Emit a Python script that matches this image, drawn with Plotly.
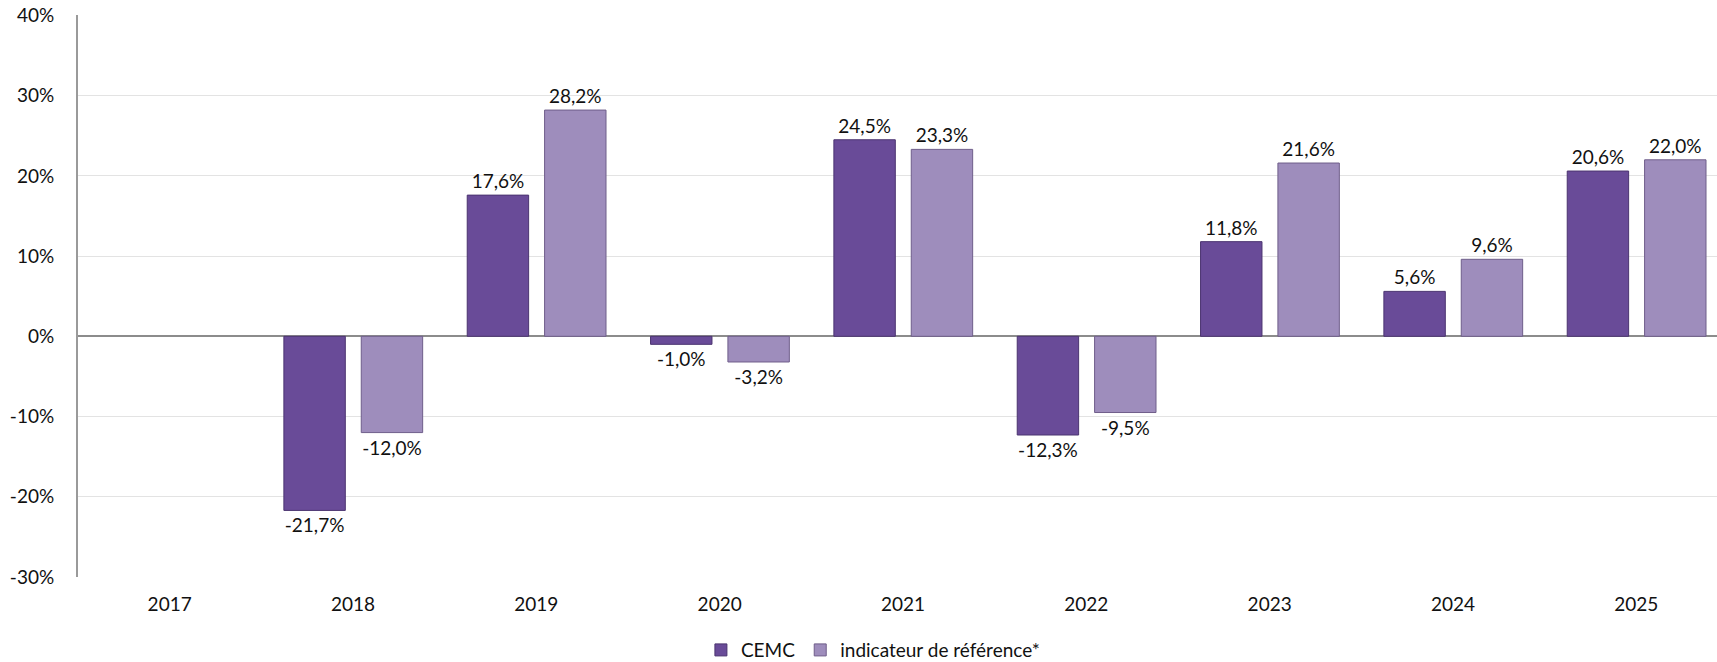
import plotly.graph_objects as go

# data
years = ['2017', '2018', '2019', '2020', '2021', '2022', '2023', '2024', '2025']
cemc = [None, -21.7, 17.6, -1.0, 24.5, -12.3, 11.8, 5.6, 20.6]
reference = [None, -12.0, 28.2, -3.2, 23.3, -9.5, 21.6, 9.6, 22.0]
y_ticks = [-30, -20, -10, 0, 10, 20, 30, 40]


def fr_pct(v):
    # french style: comma as decimal separator
    return '' if v is None else f"{v:.1f}%".replace('.', ',')


font_family = "Lato, 'Open Sans', sans-serif"

fig = go.Figure()
fig.add_trace(go.Bar(
    x=years, y=cemc, name='CEMC',
    text=[fr_pct(v) for v in cemc], textposition='outside',
    width=0.335, offset=-0.377,
    marker=dict(color='#694b98', line=dict(color='#4b3470', width=1)),
    textfont=dict(size=19, color='#111111', family=font_family),
    cliponaxis=False,
))
fig.add_trace(go.Bar(
    x=years, y=reference, name='indicateur de référence*',
    text=[fr_pct(v) for v in reference], textposition='outside',
    width=0.335, offset=0.045,
    marker=dict(color='#9e8dbc', line=dict(color='#6f5e8a', width=1)),
    textfont=dict(size=19, color='#111111', family=font_family),
    cliponaxis=False,
))

fig.update_layout(
    width=1717, height=662,
    margin=dict(l=78, r=0, t=15, b=85, autoexpand=False),
    plot_bgcolor='white', paper_bgcolor='white',
    font=dict(family=font_family, size=19, color='#111111'),
    barmode='group',
    legend=dict(orientation='h', x=0.485, xanchor='center', y=-0.13, yanchor='middle',
                font=dict(size=19), itemwidth=30),
)
fig.update_xaxes(
    type='category', range=[-0.5, 8.44],
    showgrid=False, showline=False, ticks='',
    ticklabelstandoff=14,
)
fig.update_yaxes(
    range=[-30, 40.05], tickvals=y_ticks, ticktext=[f"{v}%" for v in y_ticks],
    showgrid=True, gridcolor='#e3e3e3', gridwidth=1,
    zeroline=True, zerolinecolor='#8c8c8c', zerolinewidth=1.5,
    showline=True, linecolor='#9a9a9a', linewidth=2, mirror=False,
    ticks='', ticklabelstandoff=18, ticklabeloverflow='allow',
)

# drop the default 8px page margin so the figure fills the window
fig.write_html("out.html", config={'displayModeBar': False},
               post_script="document.body.style.margin='0';")
